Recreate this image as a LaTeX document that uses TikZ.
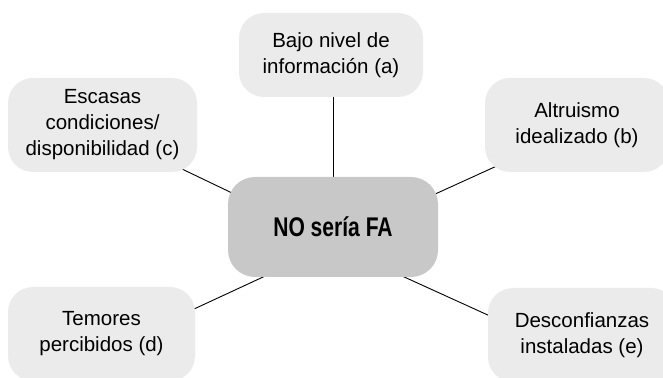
\documentclass[tikz,border=0pt]{standalone}
\usepackage{fontspec}
\setmainfont{Liberation Sans}
\newfontfamily\condfont[FakeStretch=0.78]{Liberation Sans}
\usetikzlibrary{calc,backgrounds}
\definecolor{boxgray}{RGB}{235,235,235}
\definecolor{ctrgray}{RGB}{200,200,200}
\tikzset{
  leaf/.style={fill=boxgray, draw=none, rounded corners=25pt, align=center,
    font=\fontsize{20.5}{26}\selectfont, inner sep=0pt},
  hub/.style={fill=ctrgray, draw=none, rounded corners=27pt, align=center,
    font=\condfont\bfseries\fontsize{27}{32}\selectfont, inner sep=0pt,
    minimum width=210pt, minimum height=100pt},
  link/.style={draw=black, line width=0.9pt}
}
\begin{document}
\begin{tikzpicture}[x=1pt,y=1pt]
\useasboundingbox (0,0) rectangle (663,377);
\clip (0,0) rectangle (663,377);
\node[hub] (ctr) at (333,150) {NO sería FA};
\node[leaf, minimum width=184pt, minimum height=84pt] (a) at (331,322) {Bajo nivel de\\información (a)};
\node[leaf, minimum width=189pt, minimum height=94pt] (c) at (102.5,252) {Escasas\\condiciones/\\disponibilidad (c)};
\node[leaf, minimum width=184pt, minimum height=94pt] (b) at (577,252) {Altruismo\\idealizado (b)};
\node[leaf, minimum width=187pt, minimum height=94pt] (d) at (101.5,43) {Temores\\percibidos (d)};
\node[leaf, minimum width=188pt, minimum height=94pt] (e) at (582,42) {Desconfianzas\\instaladas (e)};
\begin{pgfonlayer}{background}
\draw[link] (ctr.north |- a.south) -- (ctr.north);
\draw[link] ($(c.center)+(70.5,-39.7)$) -- ($(ctr.center)+(-92,29.7)$);
\draw[link] ($(b.center)+(-71,-36.8)$) -- ($(ctr.center)+(93,28.8)$);
\draw[link] ($(d.center)+(83.5,20.8)$) -- ($(ctr.center)+(-63,-46.8)$);
\draw[link] ($(e.center)+(-85,15.8)$) -- ($(ctr.center)+(62,-45.8)$);
\end{pgfonlayer}
\end{tikzpicture}
\end{document}
